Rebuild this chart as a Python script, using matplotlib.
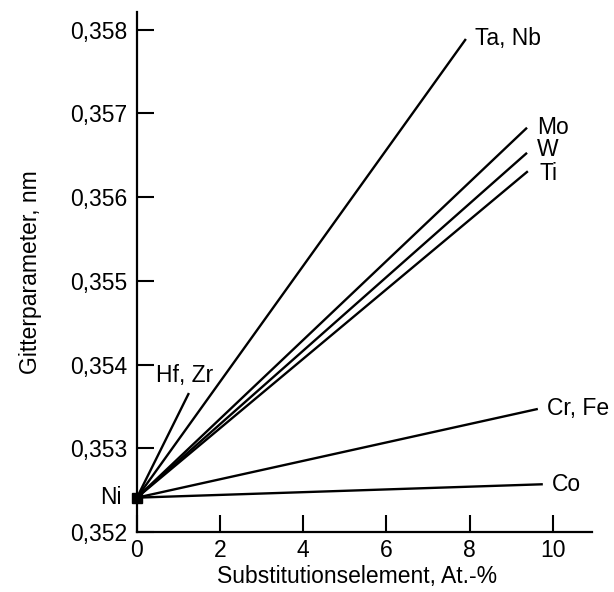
import matplotlib
matplotlib.use("Agg")
import matplotlib.pyplot as plt
from matplotlib.ticker import FuncFormatter, MultipleLocator

plt.rcParams['font.family'] = ['Liberation Sans', 'DejaVu Sans']

# lattice parameter of pure Ni (nm) and end points of each substitution line
ni_a = 0.35241
elements = ['Ta, Nb', 'Mo', 'W', 'Ti', 'Hf, Zr', 'Cr, Fe', 'Co']
end_x = [7.91, 9.38, 9.38, 9.40, 1.25, 9.64, 9.76]
end_y = [0.35789, 0.35683, 0.35653, 0.35631, 0.35366, 0.35347, 0.35257]

# label offset from line end, in pixels (dx, dy)
label_off = {
    'Ta, Nb': (9, 0), 'Mo': (10, 0), 'W': (10, 3), 'Ti': (12, -2),
    'Hf, Zr': (-33, 18), 'Cr, Fe': (9, 0), 'Co': (9, 0),
}

FS = 16.5

fig = plt.figure(figsize=(6.14, 5.92), dpi=100)
ax = fig.add_axes([0.223, 0.1014, 0.741, 0.878])

for el, x1, y1 in zip(elements, end_x, end_y):
    ax.plot([0, x1], [ni_a, y1], color='black', lw=1.7, solid_capstyle='butt')
    dx, dy = label_off[el]
    ax.annotate(el, (x1, y1), xytext=(dx * 0.72, dy * 0.72), textcoords='offset points',
                ha='left', va='center', fontsize=FS)

ax.plot([0], [ni_a], marker='s', color='black', ms=7.5, clip_on=False, zorder=5)
ax.annotate('Ni', (0, ni_a), xytext=(-11, 0), textcoords='offset points',
            ha='right', va='center', fontsize=FS)

ax.set_xlim(0, 10.94)
ax.set_ylim(0.352, 0.35821)
ax.xaxis.set_major_locator(MultipleLocator(2))
ax.yaxis.set_major_locator(MultipleLocator(0.001))
ax.yaxis.set_major_formatter(FuncFormatter(lambda v, p: f"{v:.3f}".replace('.', ',')))

for s in ['top', 'right']:
    ax.spines[s].set_visible(False)
for s in ['left', 'bottom']:
    ax.spines[s].set_linewidth(1.6)

ax.tick_params(direction='in', length=12, width=1.5, labelsize=FS)
ax.tick_params(axis='y', pad=7)
ax.tick_params(axis='x', pad=5)

ax.set_xlabel('Substitutionselement, At.-%', fontsize=FS)
ax.xaxis.set_label_coords(0.483, -0.064)
ax.set_ylabel('Gitterparameter, nm', fontsize=FS, labelpad=20)

fig.savefig('out.png', dpi=100)
